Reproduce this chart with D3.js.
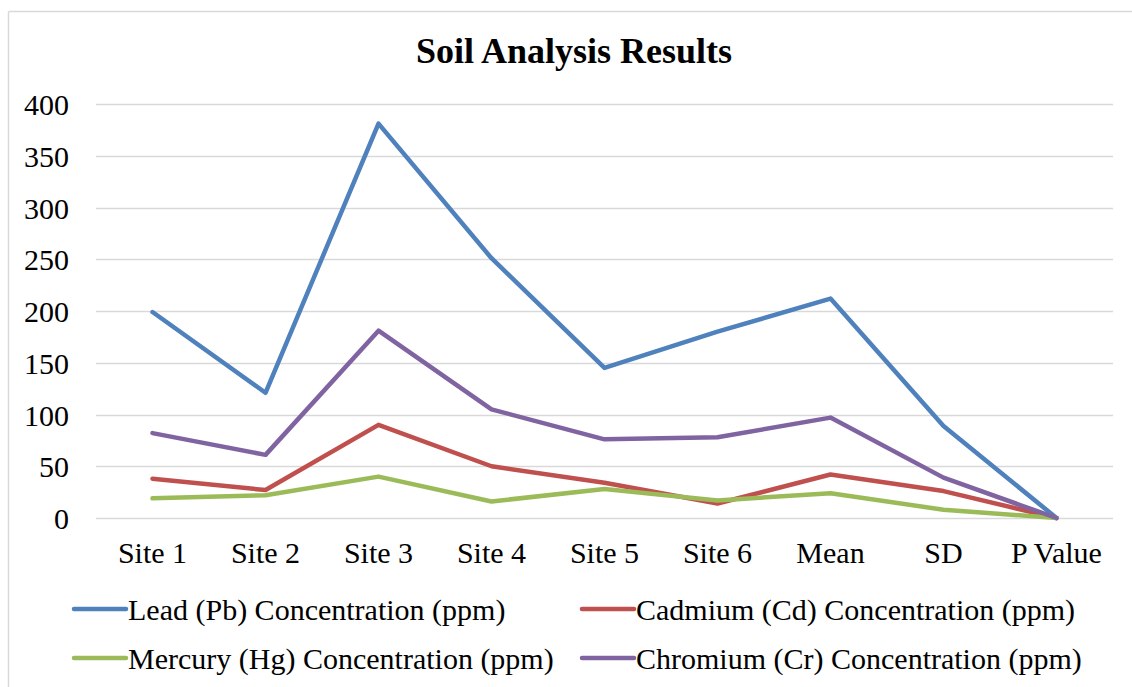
<!DOCTYPE html>
<html>
<head>
<meta charset="utf-8">
<script src="https://cdn.jsdelivr.net/npm/d3@7"></script>
<style>
  html, body { margin: 0; padding: 0; background: #fff; }
  svg { display: block; }
  text { font-family: "Liberation Serif", "Times New Roman", serif; fill: #000; }
</style>
</head>
<body>
<svg id="chart" width="1132" height="687"></svg>
<script>
const categories = ["Site 1", "Site 2", "Site 3", "Site 4", "Site 5", "Site 6", "Mean", "SD", "P Value"];
const seriesNames = [
  "Lead (Pb) Concentration (ppm)",
  "Cadmium (Cd) Concentration (ppm)",
  "Mercury (Hg) Concentration (ppm)",
  "Chromium (Cr) Concentration (ppm)"
];
const lead     = [199, 121, 381, 251, 145, 180, 212, 89, 0];
const cadmium  = [38, 27, 90, 50, 34, 14, 42, 26, 0];
const mercury  = [19, 22, 40, 16, 28, 17, 24, 8, 0];
const chromium = [82, 61, 181, 105, 76, 78, 97, 39, 0];
const yTicks = [0, 50, 100, 150, 200, 250, 300, 350, 400];
const colors = ["#4F81BD", "#C0504D", "#9BBB59", "#8064A2"];

const series = [lead, cadmium, mercury, chromium];

const svg = d3.select("#chart");

// outer frame (top and left edges visible)
svg.append("line").attr("x1", 8.5).attr("x2", 1132).attr("y1", 11.5).attr("y2", 11.5)
  .attr("stroke", "#d9d9d9").attr("stroke-width", 1.5);
svg.append("line").attr("x1", 8.5).attr("x2", 8.5).attr("y1", 11.5).attr("y2", 687)
  .attr("stroke", "#d9d9d9").attr("stroke-width", 1.5);

const plot = { left: 96, right: 1113, top: 104, bottom: 518 };

const x = d3.scaleBand().domain(categories).range([plot.left, plot.right]).padding(0);
const y = d3.scaleLinear().domain([0, 400]).range([plot.bottom, plot.top]);

// title
svg.append("text")
  .attr("x", 574).attr("y", 63)
  .attr("text-anchor", "middle")
  .attr("font-size", 36).attr("font-weight", "bold")
  .text("Soil Analysis Results");

// gridlines
svg.append("g").selectAll("line").data(yTicks).join("line")
  .attr("x1", plot.left).attr("x2", plot.right)
  .attr("y1", d => Math.round(y(d)) + 0.5).attr("y2", d => Math.round(y(d)) + 0.5)
  .attr("stroke", "#d9d9d9").attr("stroke-width", 1.5);

// y axis labels
const yAxis = d3.axisLeft(y).tickValues(yTicks).tickSize(0).tickPadding(0);
const gy = svg.append("g").attr("transform", `translate(${plot.left - 27},0)`).call(yAxis);
gy.select(".domain").remove();
gy.selectAll("text")
  .attr("font-size", 30)
  .attr("font-family", "Liberation Serif, Times New Roman, serif")
  .attr("fill", "#000")
  .attr("dy", "0.35em");

// x axis labels
const xAxis = d3.axisBottom(x).tickSize(0).tickPadding(0);
const gx = svg.append("g").attr("transform", `translate(0,${plot.bottom})`).call(xAxis);
gx.select(".domain").remove();
gx.selectAll("text")
  .attr("font-size", 30)
  .attr("font-family", "Liberation Serif, Times New Roman, serif")
  .attr("fill", "#000")
  .attr("y", 45).attr("dy", 0);

// lines
const line = d3.line()
  .x((d, i) => x(categories[i]) + x.bandwidth() / 2)
  .y(d => y(d));

svg.append("g").selectAll("path").data(series).join("path")
  .attr("d", d => line(d))
  .attr("fill", "none")
  .attr("stroke", (d, i) => colors[i])
  .attr("stroke-width", 4.5)
  .attr("stroke-linejoin", "round")
  .attr("stroke-linecap", "round");

// legend
const colX = [74, 582];
const lg = svg.append("g").selectAll("g").data(seriesNames).join("g")
  .attr("transform", (d, i) => `translate(${colX[i % 2]},${i < 2 ? 609 : 658})`);
lg.append("line")
  .attr("x1", 0).attr("x2", 52).attr("y1", 0).attr("y2", 0)
  .attr("stroke", (d, i) => colors[i]).attr("stroke-width", 4.5).attr("stroke-linecap", "round");
lg.append("text")
  .attr("x", 54).attr("y", 0).attr("dy", "0.35em")
  .attr("font-size", 30)
  .text(d => d);
</script>
</body>
</html>
